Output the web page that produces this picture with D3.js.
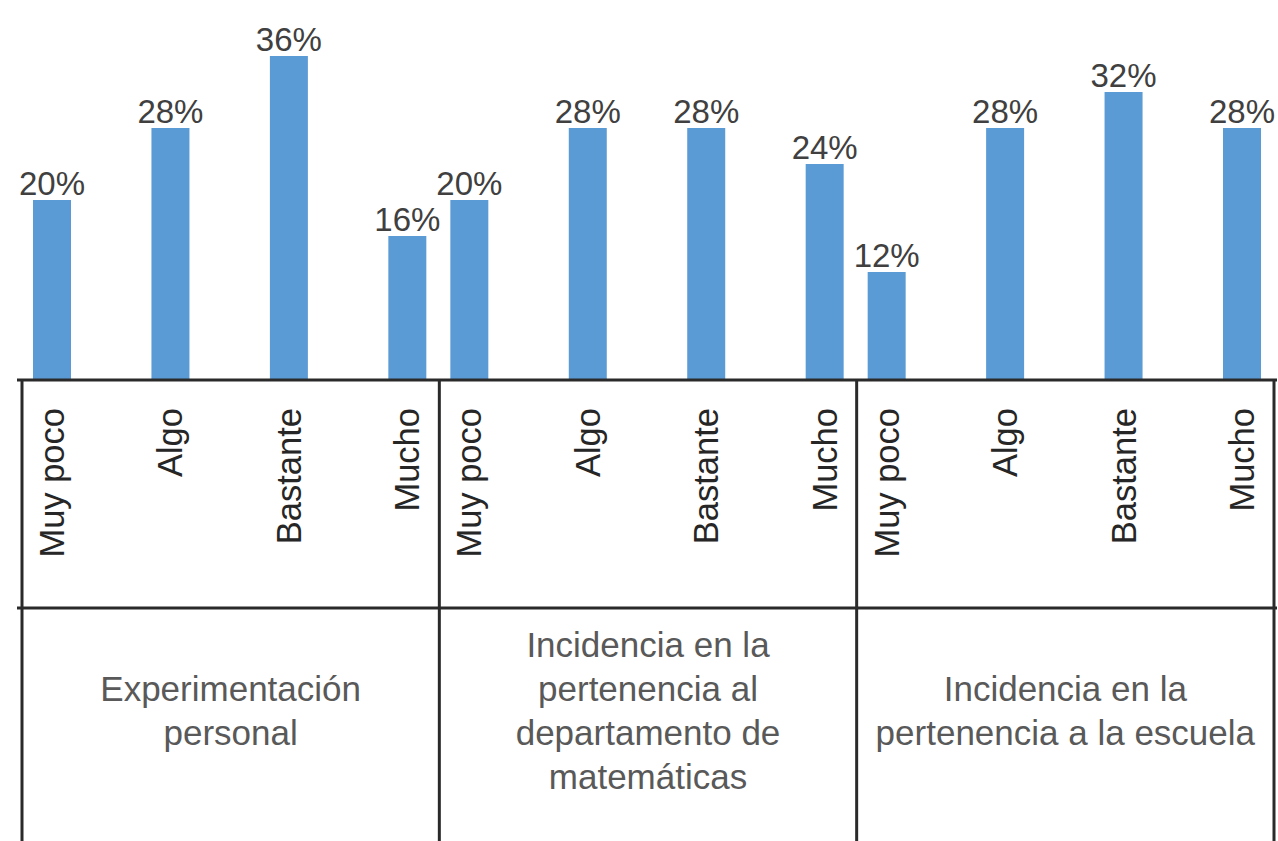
<!DOCTYPE html>
<html>
<head>
<meta charset="utf-8">
<script src="https://cdn.jsdelivr.net/npm/d3@7"></script>
<style>
  html, body { margin: 0; padding: 0; background: #fff; }
  svg { display: block; }
</style>
</head>
<body>
<svg id="chart" width="1278" height="841"></svg>
<script>
// ---- data ----
const groups = [
  "Experimentación personal",
  "Incidencia en la pertenencia al departamento de matemáticas",
  "Incidencia en la pertenencia a la escuela"
];
const groupLines = [
  ["Experimentación", "personal"],
  ["Incidencia en la", "pertenencia al", "departamento de", "matemáticas"],
  ["Incidencia en la", "pertenencia a la escuela"]
];
const categories = ["Muy poco", "Algo", "Bastante", "Mucho"];
const valuesExperimentacion = [0.20, 0.28, 0.36, 0.16];
const valuesDepartamento   = [0.20, 0.28, 0.28, 0.24];
const valuesEscuela        = [0.12, 0.28, 0.32, 0.28];
const seriesValues = [valuesExperimentacion, valuesDepartamento, valuesEscuela];

// ---- layout ----
const W = 1278, H = 841;
const left = 22, right = 1274;
const baseY = 380, rowY = 608, bottomY = H;
const barColor = "#5B9BD5";
const lineColor = "#2a2a2a";
const font = "'Liberation Sans', Arial, sans-serif";

const svg = d3.select("#chart");

const xGroup = d3.scaleBand().domain(groups).range([left, right]).padding(0);
const y = d3.scaleLinear().domain([0, 0.4]).range([baseY, 20]);
const barW = 38;

const data = [];
groups.forEach((g, gi) => {
  const x0 = xGroup(g), x1 = x0 + xGroup.bandwidth();
  const xInner = d3.scalePoint().domain(categories).range([x0 + 30, x1 - 32]);
  categories.forEach((c, ci) => {
    data.push({ group: g, gi, cat: c, value: seriesValues[gi][ci], cx: xInner(c) });
  });
});

// bars
svg.append("g").selectAll("rect").data(data).join("rect")
  .attr("x", d => d.cx - barW / 2)
  .attr("y", d => y(d.value))
  .attr("width", barW)
  .attr("height", d => y(0) - y(d.value))
  .attr("fill", barColor);

// data labels
svg.append("g").selectAll("text").data(data).join("text")
  .attr("x", d => d.cx)
  .attr("y", d => y(d.value) - 5)
  .attr("text-anchor", "middle")
  .attr("font-family", font)
  .attr("font-size", 33)
  .attr("fill", "#404040")
  .text(d => d3.format(".0%")(d.value));

// category labels (rotated)
svg.append("g").selectAll("text").data(data).join("text")
  .attr("transform", d => `translate(${d.cx + 12},${408}) rotate(-90)`)
  .attr("text-anchor", "end")
  .attr("font-family", font)
  .attr("font-size", 34.5)
  .attr("fill", "#262626")
  .text(d => d.cat);

// table lines
const lines = svg.append("g").attr("stroke", lineColor).attr("stroke-width", 3).attr("fill", "none");
lines.append("line").attr("x1", 17).attr("x2", 1277).attr("y1", baseY).attr("y2", baseY);
lines.append("line").attr("x1", 17).attr("x2", 1277).attr("y1", rowY).attr("y2", rowY);
const vx = groups.map(g => xGroup(g)).concat([right]);
lines.selectAll("line.v").data(vx).join("line").attr("class", "v")
  .attr("x1", d => d).attr("x2", d => d)
  .attr("y1", baseY).attr("y2", bottomY);

// group labels
const gl = svg.append("g").selectAll("text").data(groups).join("text")
  .attr("text-anchor", "middle")
  .attr("font-family", font)
  .attr("font-size", 35)
  .attr("fill", "#595959");
gl.each(function(g, gi) {
  const ls = groupLines[gi];
  const lh = 44;
  const cx = xGroup(g) + xGroup.bandwidth() / 2;
  const startY = 723 - (ls.length - 1) * lh / 2;
  d3.select(this).selectAll("tspan").data(ls).join("tspan")
    .attr("x", cx)
    .attr("y", (d, i) => startY + i * lh)
    .text(d => d);
});
</script>
</body>
</html>
